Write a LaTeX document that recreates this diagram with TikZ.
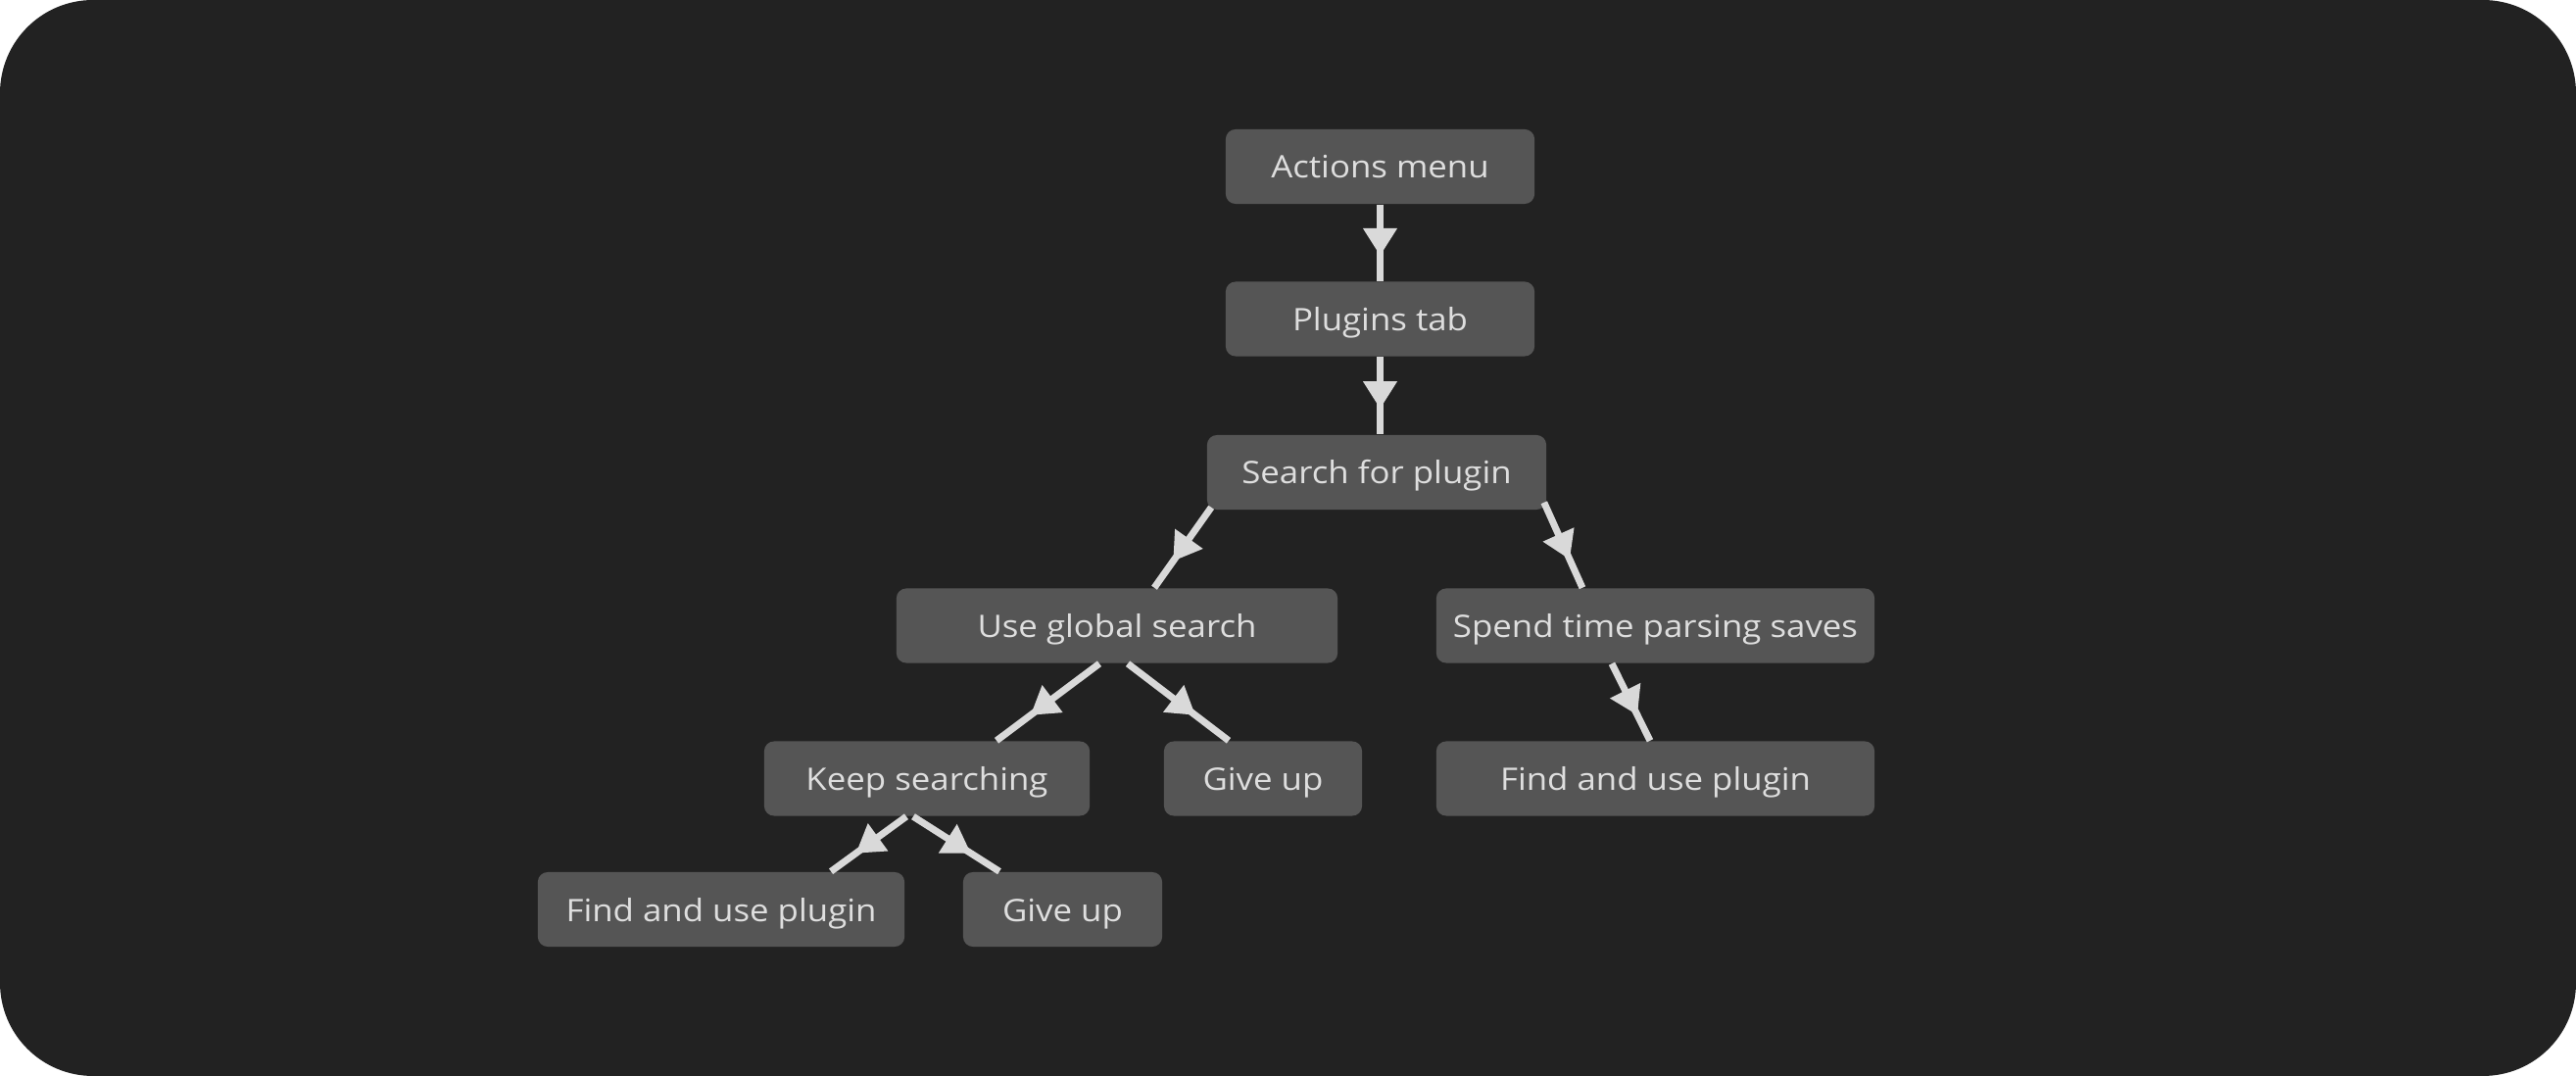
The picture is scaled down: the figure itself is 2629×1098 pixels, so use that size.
\documentclass[tikz,border=0pt]{standalone}
\usepackage{fontspec}
\setmainfont{Open Sans}[FakeStretch=1.1]
\usetikzlibrary{arrows.meta,decorations.markings}
\definecolor{bgdark}{HTML}{222222}
\definecolor{boxgray}{HTML}{555555}
\definecolor{textgray}{HTML}{DEDEDE}
\definecolor{linegray}{HTML}{D9D9D9}
\tikzset{
  box/.style={fill=boxgray, text=textgray, rounded corners=0.1cm, minimum height=0.76cm,
    inner sep=0pt, text height=0.24cm, text depth=0cm, font=\fontsize{9pt}{10pt}\selectfont},
  flow/.style={draw=linegray, line width=0.07cm,
    decoration={markings, mark=at position 0.67 with {\arrow{Triangle[length=0.28cm,width=0.33cm]}}},
    postaction={decorate}, color=linegray}
}
\begin{document}
\begin{tikzpicture}[x=0.01cm, y=-0.01cm]
  \useasboundingbox (0,0) rectangle (2629,1098);
  \fill[bgdark, rounded corners=0.95cm] (0,0) rectangle (2629,1098);

  \node[box, minimum width=3.15cm] (actions) at (1408.5,170) {Actions menu};
  \node[box, minimum width=3.15cm] (plugins) at (1408.5,325.5) {Plugins tab};
  \node[box, minimum width=3.46cm] (search) at (1405,482) {Search for plugin};
  \node[box, minimum width=4.50cm] (global) at (1140,638.5) {Use global search};
  \node[box, minimum width=4.47cm] (parsing) at (1689.5,638.5) {Spend time parsing saves};
  \node[box, minimum width=3.32cm] (keep) at (946,794.5) {Keep searching};
  \node[box, minimum width=2.02cm] (giveupa) at (1289,794.5) {Give up};
  \node[box, minimum width=4.47cm] (findb) at (1689.5,794.5) {Find and use plugin};
  \node[box, minimum width=3.74cm] (finda) at (736,928) {Find and use plugin};
  \node[box, minimum width=2.03cm] (giveupb) at (1084.5,928) {Give up};

  % connectors, tip half way down each line
  \draw[flow] (actions.south) -- (plugins.north);
  \draw[flow] (plugins.south) -- (plugins.south |- search.north);
  \draw[flow] ([xshift=0.05cm,yshift=0.03cm]search.south west) -- ([xshift=0.38cm]global.north);
  \draw[flow] ([xshift=-0.03cm,yshift=0.08cm]search.south east) -- ([xshift=-0.745cm]parsing.north);
  \draw[flow] ([xshift=-0.18cm]global.south) -- ([xshift=0.71cm]keep.north);
  \draw[flow] ([xshift=0.11cm]global.south) -- ([xshift=-0.35cm]giveupa.north);
  \draw[flow] ([xshift=-0.445cm]parsing.south) -- ([xshift=-0.055cm]findb.north);
  \draw[flow] ([xshift=-0.21cm]keep.south) -- ([xshift=1.12cm]finda.north);
  \draw[flow] ([xshift=-0.14cm]keep.south) -- ([xshift=-0.645cm]giveupb.north);
\end{tikzpicture}
\end{document}
